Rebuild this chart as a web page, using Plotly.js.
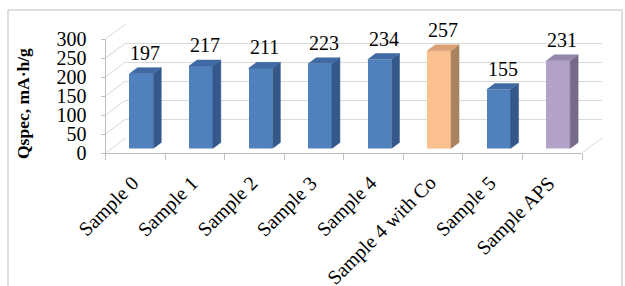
<!DOCTYPE html>
<html>
<head>
<meta charset="utf-8">
<script src="https://cdn.plot.ly/plotly-3.0.1.min.js"></script>
<style>html,body{margin:0;padding:0;background:#fff;}#chart{width:625px;height:286px;}</style>
</head>
<body>
<div id="chart"></div>
<script>
// ---- data ----
const categories = ["Sample 0","Sample 1","Sample 2","Sample 3","Sample 4","Sample 4 with Co","Sample 5","Sample APS"];
const values = [197, 217, 211, 223, 234, 257, 155, 231];
const yTicks = [0, 50, 100, 150, 200, 250, 300];
const yTitle = "Qspec, mA·h/g";

// ---- styling ----
const frontColors = ["#4f81bd","#4f81bd","#4f81bd","#4f81bd","#4f81bd","#fac090","#4f81bd","#b3a2c7"];
const sideColors  = ["#35588a","#35588a","#35588a","#35588a","#35588a","#a8835f","#35588a","#756a88"];
const topColors   = ["#3f6aa3","#3f6aa3","#3f6aa3","#3f6aa3","#3f6aa3","#d8a073","#3f6aa3","#9587ab"];
const FONT = "Liberation Serif, Times New Roman, serif";

// ---- geometry (pixels) ----
const W = 625, H = 286;
const front = {x0: 105.6, x1: 582, y0: 153, yTop: 39};
const backOff = {dx: 20, dy: -15};
const barOff = {dx: 6, dy: -4.5};
const sidePx = {dx: 8, dy: 6};
const barWidth = 0.4;
const yMax = 300;
const xLabelTop = 170;      // px, top of rotated category labels
const titlePos = {x: 23, y: 104};

const n = categories.length;
const kx = (front.x1 - front.x0) / n;
const ky = (front.y0 - front.yTop) / yMax;
const dX = (x0, x1) => [x0 / W, x1 / W];
const dY = (y0, yT) => [(H - y0) / H, (H - yT) / H];
const px = x => x / W, py = y => (H - y) / H;

const back = {x0: front.x0 + backOff.dx, x1: front.x1 + backOff.dx, y0: front.y0 + backOff.dy, yTop: front.yTop + backOff.dy};
const bars = {x0: front.x0 + barOff.dx, x1: front.x1 + barOff.dx, y0: front.y0 + barOff.dy, yTop: front.yTop + barOff.dy};

const sdx = sidePx.dx / kx, sdy = sidePx.dy / ky;
const idx = categories.map((c, i) => i);

const traces = [];
// invisible trace to establish category front axis
traces.push({x: categories, y: values, type: 'scatter', mode: 'markers', marker: {opacity: 0}, hoverinfo: 'skip', showlegend: false, xaxis: 'x', yaxis: 'y'});
// back wall subplot
traces.push({x: [], y: [], type: 'scatter', mode: 'markers', showlegend: false, xaxis: 'x2', yaxis: 'y2'});
// front faces
traces.push({x: idx, y: values, type: 'bar', width: barWidth, marker: {color: frontColors, line: {width: 0}}, showlegend: false, hoverinfo: 'skip', xaxis: 'x3', yaxis: 'y3'});
// side and top faces
values.forEach((v, i) => {
  const xl = i - barWidth / 2, xr = i + barWidth / 2;
  traces.push({x: [xr, xr + sdx, xr + sdx, xr, xr], y: [0, sdy, v + sdy, v, 0], type: 'scatter', mode: 'lines', fill: 'toself', fillcolor: sideColors[i], line: {width: 0.5, color: sideColors[i]}, showlegend: false, hoverinfo: 'skip', xaxis: 'x3', yaxis: 'y3'});
  traces.push({x: [xl, xr, xr + sdx, xl + sdx, xl], y: [v, v, v + sdy, v + sdy, v], type: 'scatter', mode: 'lines', fill: 'toself', fillcolor: topColors[i], line: {width: 0.5, color: topColors[i]}, showlegend: false, hoverinfo: 'skip', xaxis: 'x3', yaxis: 'y3'});
});

// shapes: left wall diagonals, floor right edge, frame
const shapes = [];
const gridColor = "#d9d9d9";
yTicks.forEach(t => {
  const yf = front.y0 - t * ky, yb = back.y0 - t * ky;
  shapes.push({type: 'line', xref: 'paper', yref: 'paper', x0: px(front.x0), y0: py(yf), x1: px(back.x0), y1: py(yb), line: {color: gridColor, width: 1}, layer: 'below'});
});
shapes.push({type: 'line', xref: 'paper', yref: 'paper', x0: px(front.x1), y0: py(front.y0), x1: px(back.x1), y1: py(back.y0), line: {color: gridColor, width: 1}, layer: 'below'});
shapes.push({type: 'rect', xref: 'paper', yref: 'paper', x0: px(8), y0: py(300), x1: px(622), y1: py(10), line: {color: "#bfbfbf", width: 1}, layer: 'below'});

// value labels
const annotations = values.map((v, i) => ({
  x: i + sdx / 2, y: v, xref: 'x3', yref: 'y3', text: String(v), showarrow: false,
  yanchor: 'bottom', xanchor: 'center', yshift: 8, font: {family: FONT, size: 20, color: '#000'}
}));
// category labels (rotated)
categories.forEach((c) => {
  annotations.push({x: c, xref: 'x', y: py(xLabelTop), yref: 'paper', text: c, showarrow: false,
    textangle: -45, xanchor: 'right', yanchor: 'top', xshift: 9, borderpad: 0, font: {family: FONT, size: 20, color: '#000'}});
});
// y-axis title
annotations.push({x: px(titlePos.x), y: py(titlePos.y), xref: 'paper', yref: 'paper', text: '<b>' + yTitle + '</b>',
  showarrow: false, textangle: -90, xanchor: 'center', yanchor: 'middle', font: {family: FONT, size: 17.5, color: '#000'}});

const layout = {
  width: W, height: H,
  margin: {l: 0, r: 0, t: 0, b: 0},
  paper_bgcolor: '#fff', plot_bgcolor: 'rgba(0,0,0,0)',
  showlegend: false,
  font: {family: FONT, size: 20, color: '#000'},
  xaxis: {
    domain: dX(front.x0, front.x1), type: 'category', categoryorder: 'array', categoryarray: categories,
    range: [-0.5, n - 0.5], tickson: 'boundaries', ticks: 'outside', ticklen: 6, tickcolor: '#bfbfbf',
    showline: true, linecolor: '#bfbfbf', showgrid: false, zeroline: false, showticklabels: false,
    automargin: false, fixedrange: true
  },
  yaxis: {
    domain: dY(front.y0, front.yTop), range: [0, yMax], tickvals: yTicks, ticks: 'outside', ticklen: 4,
    tickcolor: '#bfbfbf', showline: true, linecolor: '#bfbfbf', showgrid: false, zeroline: false,
    tickfont: {family: FONT, size: 20, color: '#000'}, ticklabelstandoff: 10, automargin: false, fixedrange: true
  },
  xaxis2: {domain: dX(back.x0, back.x1), range: [-0.5, n - 0.5], visible: false, anchor: 'y2', fixedrange: true},
  yaxis2: {domain: dY(back.y0, back.yTop), range: [0, yMax], tickvals: yTicks, showticklabels: false, ticks: '', showgrid: true, gridcolor: gridColor, gridwidth: 1, zeroline: false, showline: false, anchor: 'x2', fixedrange: true},
  xaxis3: {domain: dX(bars.x0, bars.x1), range: [-0.5, n - 0.5], visible: false, anchor: 'y3', fixedrange: true},
  yaxis3: {domain: dY(bars.y0, bars.yTop), range: [0, yMax], visible: false, anchor: 'x3', fixedrange: true},
  shapes: shapes,
  annotations: annotations,
  bargap: 0
};

Plotly.newPlot('chart', traces, layout, {staticPlot: true, displayModeBar: false});
</script>
</body>
</html>
